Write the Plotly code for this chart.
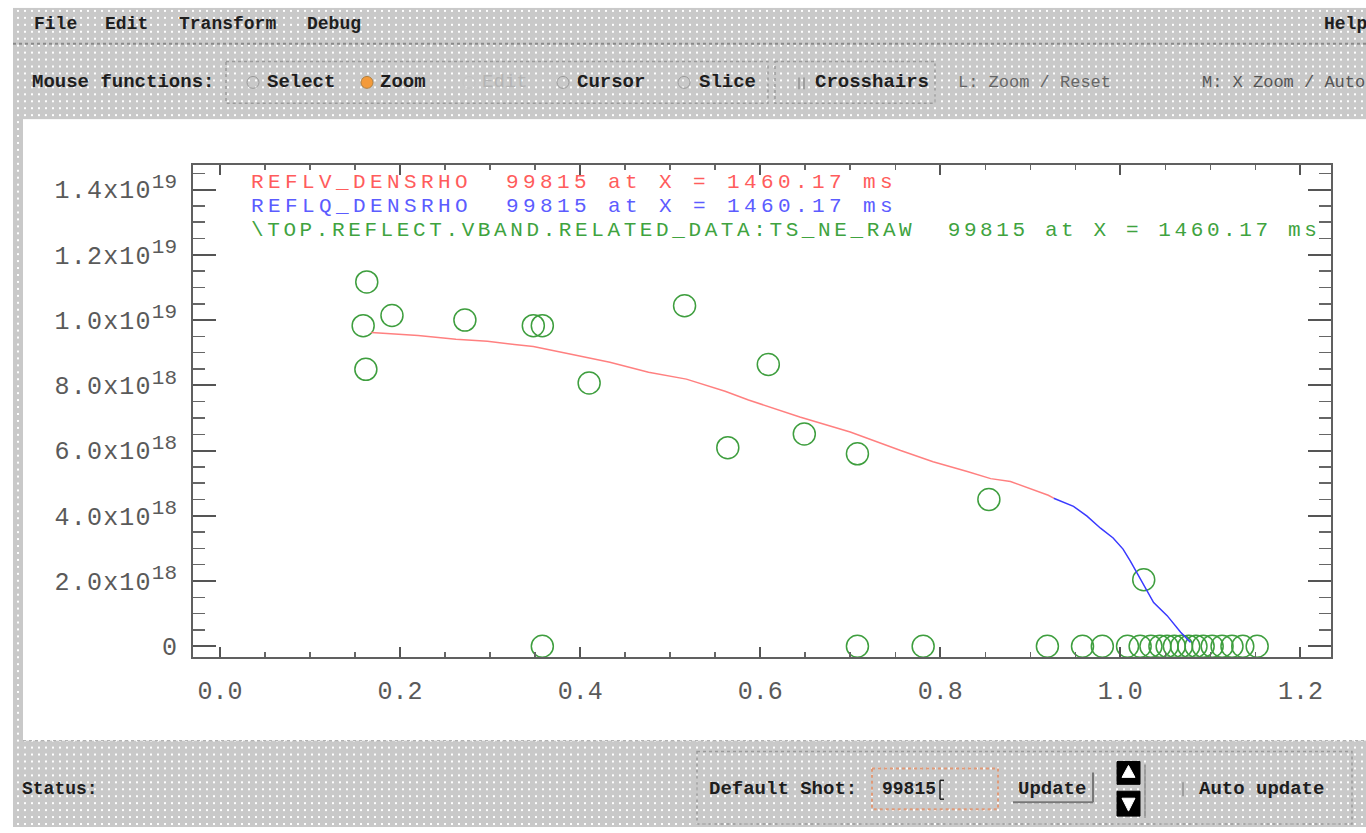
import base64
import plotly.graph_objects as go

# ---------------- data ----------------
# TS_NE_RAW measured points (green open circles)
ts_x = [0.163, 0.159, 0.191, 0.162, 0.272, 0.348, 0.358, 0.410, 0.516, 0.564,
        0.609, 0.649, 0.708, 0.854, 1.026,
        0.358, 0.708, 0.781, 0.919, 0.958, 0.980, 1.008, 1.022, 1.034, 1.044,
        1.052, 1.060, 1.068, 1.076, 1.084, 1.092, 1.102, 1.113, 1.124, 1.136, 1.152]
ts_y = [1.117e19, 9.83e18, 1.014e19, 8.49e18, 1.000e19, 9.83e18, 9.83e18, 8.07e18, 1.044e19, 6.09e18,
        8.64e18, 6.51e18, 5.90e18, 4.50e18, 2.04e18,
        0, 0, 0, 0, 0, 0, 0, 0, 0, 0,
        0, 0, 0, 0, 0, 0, 0, 0, 0, 0, 0]

# REFLV_DENSRHO profile (red)
reflv_x = [0.168, 0.220, 0.262, 0.297, 0.327, 0.348, 0.390, 0.433, 0.476, 0.518, 0.561,
           0.587, 0.644, 0.700, 0.756, 0.792, 0.830, 0.856, 0.878, 0.903, 0.920, 0.926]
reflv_y = [9.62e18, 9.53e18, 9.41e18, 9.35e18, 9.25e18, 9.19e18, 8.95e18, 8.71e18, 8.40e18, 8.19e18, 7.82e18,
           7.55e18, 7.03e18, 6.57e18, 6.00e18, 5.66e18, 5.36e18, 5.14e18, 5.05e18, 4.81e18, 4.63e18, 4.54e18]

# REFLQ_DENSRHO profile (blue)
reflq_x = [0.926, 0.948, 0.963, 0.978, 0.992, 1.003, 1.011, 1.019, 1.028, 1.037, 1.052, 1.067, 1.078]
reflq_y = [4.54e18, 4.29e18, 3.99e18, 3.62e18, 3.32e18, 2.98e18, 2.62e18, 2.22e18, 1.77e18, 1.34e18,
           9.4e17, 4.3e17, 1.2e17]

x_tick_vals = [0.0, 0.2, 0.4, 0.6, 0.8, 1.0, 1.2]
x_tick_text = ["0.0", "0.2", "0.4", "0.6", "0.8", "1.0", "1.2"]
y_tick_vals = [0, 2e18, 4e18, 6e18, 8e18, 1.0e19, 1.2e19, 1.4e19]
y_tick_mant = ["0", "2.0", "4.0", "6.0", "8.0", "1.0", "1.2", "1.4"]
y_tick_exp = ["", "18", "18", "18", "18", "19", "19", "19"]

legend_lines = [
    ("REFLV_DENSRHO  99815 at X = 1460.17 ms", "#ff5c5c", 4.4),
    ("REFLQ_DENSRHO  99815 at X = 1460.17 ms", "#5c5cff", 4.4),
    ("\\TOP.REFLECT.VBAND.RELATED_DATA:TS_NE_RAW  99815 at X = 1460.17 ms", "#3fa33f", 3.6),
]

# tick label strings in the "m.mx10^e" style of the original
y_tick_text = [
    m if not e else
    f"<span style='letter-spacing:1.2px'>{m}x10</span><sup><span style='font-size:21px'>{e}</span></sup>"
    for m, e in zip(y_tick_mant, y_tick_exp)
]

# ---------------- page geometry helpers ----------------
W, H = 1366, 833
def fx(p):
    return p / W
def fy(p):
    return 1 - p / H

# dotted gray GUI background (as an SVG image)
svg = (
    "<svg xmlns='http://www.w3.org/2000/svg' width='1366' height='833' preserveAspectRatio='none'>"
    "<defs><pattern id='p' width='7' height='7' patternUnits='userSpaceOnUse'>"
    "<rect width='7' height='7' fill='#c9c9c9'/>"
    "<rect x='3' y='3' width='2' height='2' fill='#ffffff'/></pattern></defs>"
    "<rect width='1366' height='833' fill='#ffffff'/>"
    "<rect x='13' y='8' width='1353' height='825' fill='url(#p)'/>"
    "<rect x='23' y='120' width='1343' height='626' fill='#ffffff'/>"
    "</svg>"
)
svg_uri = "data:image/svg+xml;base64," + base64.b64encode(svg.encode()).decode()

fig = go.Figure()

fig.add_trace(go.Scatter(
    x=ts_x, y=ts_y, mode="markers", cliponaxis=False,
    marker=dict(symbol="circle-open", size=22, color="#3e9e3e", line=dict(width=1.5)),
    hoverinfo="skip"))
fig.add_trace(go.Scatter(
    x=reflv_x, y=reflv_y, mode="lines",
    line=dict(color="#ff8080", width=1.5), hoverinfo="skip"))
fig.add_trace(go.Scatter(
    x=reflq_x, y=reflq_y, mode="lines",
    line=dict(color="#3a3aff", width=1.5), hoverinfo="skip"))

tick_font = dict(family="Liberation Mono", size=25, color="#5a5a5a")

fig.update_layout(
    width=W, height=H, autosize=False,
    margin=dict(l=0, r=0, t=0, b=0),
    paper_bgcolor="#ffffff", plot_bgcolor="rgba(0,0,0,0)",
    showlegend=False, hovermode=False,
    images=[dict(source=svg_uri, xref="paper", yref="paper", x=0, y=1,
                 sizex=1, sizey=1, xanchor="left", yanchor="top",
                 sizing="stretch", layer="below")],
    xaxis=dict(
        domain=[fx(193), fx(1331)], range=[-0.03, 1.234],
        tickmode="array", tickvals=x_tick_vals, ticktext=x_tick_text,
        ticks="inside", ticklen=10, tickwidth=2, tickcolor="#555555",
        minor=dict(ticks="inside", ticklen=5, tickwidth=1.5, tickcolor="#666666",
                   tickmode="linear", tick0=0, dtick=0.05),
        showline=True, linecolor="#606060", linewidth=2, mirror="ticks",
        showgrid=False, zeroline=False, tickfont=tick_font, ticklabelstandoff=10,
    ),
    yaxis=dict(
        domain=[fy(662), fy(166)], range=[-3.35e17, 1.476e19],
        tickmode="array", tickvals=y_tick_vals, ticktext=y_tick_text,
        ticks="inside", ticklen=23, tickwidth=2, tickcolor="#555555",
        minor=dict(ticks="inside", ticklen=12, tickwidth=1.5, tickcolor="#666666",
                   tickmode="linear", tick0=0, dtick=5e17),
        showline=True, linecolor="#606060", linewidth=2, mirror="ticks",
        showgrid=False, zeroline=False, tickfont=tick_font, ticklabelstandoff=9,
    ),
)

ann = []
# legend-like labels inside plot (wide, letter-spaced like the original vector font)
for i, (txt, col, ls) in enumerate(legend_lines):
    ann.append(dict(text=f"<span style='letter-spacing:{ls}px'>{txt}</span>",
                    x=fx(249), y=fy(184 + i * 24), xref="paper", yref="paper",
                    xanchor="left", yanchor="middle", showarrow=False,
                    font=dict(family="Liberation Mono", size=21, color=col)))

def ui(txt, x, y, size=20, color="#1e1e1e", weight="bold"):
    ann.append(dict(text=txt, x=fx(x), y=fy(y), xref="paper", yref="paper",
                    xanchor="left", yanchor="middle", showarrow=False,
                    font=dict(family="Liberation Mono", size=size, color=color, weight=weight)))

# menu bar
ui("File", 32, 24, 18)
ui("Edit", 103, 24, 18)
ui("Transform", 177, 24, 18)
ui("Debug", 305, 24, 18)
ui("Help", 1322, 24, 18)
# toolbar
ui("Mouse functions:", 30, 83, 19)
ui("Select", 265, 83, 19)
ui("Zoom", 378, 83, 19)
ui("Edit", 480, 83, 19, "#b4b4b4", "normal")
ui("Cursor", 575, 83, 19)
ui("Slice", 697, 83, 19)
ui("Crosshairs", 813, 83, 19)
ui("L: Zoom / Reset", 956, 83, 17, "#666666", "normal")
ui("M: X Zoom / Auto", 1200, 83, 17, "#555555", "normal")
# status bar
ui("Status:", 20, 795, 18)
ui("Default Shot:", 707, 795, 19)
ui("99815", 880, 795, 18)
ui("Update", 1016, 795, 19)
ui("Auto update", 1197, 795, 19)

shapes = []
def rect(x0, y0, x1, y1, line_color="#9a9a9a", dash="dot", width=1.5, fill=None):
    d = dict(type="rect", xref="paper", yref="paper", x0=fx(x0), x1=fx(x1), y0=fy(y0), y1=fy(y1),
             line=dict(color=line_color, width=width, dash=dash))
    if fill:
        d["fillcolor"] = fill
    shapes.append(d)

def line(x0, y0, x1, y1, color="#888888", width=1.5, dash="solid"):
    shapes.append(dict(type="line", xref="paper", yref="paper", x0=fx(x0), x1=fx(x1),
                       y0=fy(y0), y1=fy(y1), line=dict(color=color, width=width, dash=dash)))

def circ(cx, cy, r, color="#9a9a9a", fill=None):
    d = dict(type="circle", xref="paper", yref="paper", x0=fx(cx - r), x1=fx(cx + r),
             y0=fy(cy + r), y1=fy(cy - r), line=dict(color=color, width=1))
    if fill:
        d["fillcolor"] = fill
    shapes.append(d)

# menu separator
line(13, 44, 1366, 44, "#8a8a8a", 2, "dot")
# toolbar group boxes
rect(226, 62, 768, 104)
rect(775, 62, 935, 104)
# radio buttons
circ(253, 83, 6)
circ(367, 83, 6, "#b08040", "#f39a3a")
circ(469, 83, 6, "#c4c4c4")
circ(563, 83, 6)
circ(684, 83, 6)
# crosshairs checkbox mark
line(799, 78, 799, 90, "#909090", 1.5)
line(804, 78, 804, 90, "#909090", 1.5)
# plot area bottom border (dotted)
line(23, 746, 1366, 746, "#aaaaaa", 1, "dot")
# status bar group box
rect(697, 757, 1352, 830)
# text field
rect(872, 774, 998, 815, "#e09a78", "dot", 2)
line(940, 786, 940, 805, "#222222", 1.5)
line(940, 786, 944, 786, "#222222", 1.5)
line(940, 805, 944, 805, "#222222", 1.5)
# update button frame
line(1013, 808, 1093, 808, "#777777", 2)
line(1093, 778, 1093, 808, "#777777", 2)
# arrow icons
rect(1117, 767, 1140, 790, "#000000", "solid", 1, "#000000")
rect(1117, 797, 1140, 822, "#000000", "solid", 1, "#000000")
shapes.append(dict(type="path", xref="paper", yref="paper",
                   path=f"M {fx(1122)} {fy(783)} L {fx(1128.5)} {fy(771)} L {fx(1135)} {fy(783)} Z",
                   fillcolor="#ffffff", line=dict(color="#ffffff", width=1)))
shapes.append(dict(type="path", xref="paper", yref="paper",
                   path=f"M {fx(1122)} {fy(804)} L {fx(1128.5)} {fy(817)} L {fx(1135)} {fy(804)} Z",
                   fillcolor="#ffffff", line=dict(color="#ffffff", width=1)))
line(1145, 770, 1145, 824, "#8a8a8a", 1.5)
# auto update checkbox mark
line(1183, 788, 1183, 802, "#909090", 1.5)

fig.update_layout(annotations=ann, shapes=shapes)

post = (
    "var de=document.documentElement, b=document.body;"
    "de.style.margin='0';de.style.padding='0';de.style.height='833px';de.style.overflow='hidden';"
    "b.style.margin='0';b.style.padding='0';b.style.height='833px';b.style.overflow='hidden';"
    "var gd=document.getElementById('{plot_id}');"
    "gd.style.display='block';"
    "if(gd.parentNode){gd.parentNode.style.height='833px';gd.parentNode.style.overflow='hidden';"
    "gd.parentNode.style.lineHeight='0';}"
)

fig.write_html(
    "out.html",
    config={"displayModeBar": False, "staticPlot": True},
    post_script=post,
)
